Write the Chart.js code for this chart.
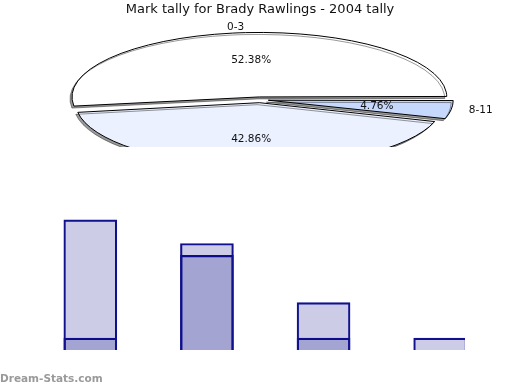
<!DOCTYPE html>
<html>
<head>
<meta charset="utf-8">
<script src="https://cdn.jsdelivr.net/npm/chart.js@4/dist/chart.umd.min.js"></script>
<style>
  body { margin: 0; background: #fff; }
  #wrap { position: relative; width: 520px; height: 390px; overflow: hidden; background: #fff; }
  #pie { position: absolute; left: 0; top: 0; }
  #bars { position: absolute; left: 0; top: 150px; }
  #mark { position: absolute; left: 0; top: 372px; font: bold 10.5px "DejaVu Sans", sans-serif; color: #9a9a9a; }
</style>
</head>
<body>
<div id="wrap">
  <canvas id="pie" width="520" height="147"></canvas>
  <canvas id="bars" width="520" height="240"></canvas>
  <div id="mark">Dream-Stats.com</div>
</div>
<script>
var chartTitle = 'Mark tally for Brady Rawlings - 2004 tally';

// pie slices
var sliceLabels = ['0-3', '4-7', '8-11'];
var sliceValues = [11, 9, 1];

// bars (overlapping, no axes shown)
var barSlots = [0, 1, 2, 3];
var barBack = [11, 9, 4, 1];
var barFront = [1, 8, 1, 0];

var labelFont = '10.5px "DejaVu Sans", sans-serif';

// squash the pie into an ellipse, keep 1px outlines, then write the labels
var ellipsePie = {
  id: 'ellipsePie',
  beforeDatasetsDraw: function (chart, args, opts) {
    var arc = chart.getDatasetMeta(0).data[0];
    var ctx = chart.ctx;
    var dpr = chart.currentDevicePixelRatio || 1;
    var sx = opts.rx / arc.outerRadius;
    var sy = opts.ry / arc.outerRadius;
    ctx.save();
    ctx.translate(arc.x, arc.y);
    ctx.scale(sx, sy);
    ctx.translate(-arc.x, -arc.y);
    ctx.shadowColor = 'rgba(0,0,0,0.4)';
    ctx.shadowOffsetX = -2;
    ctx.shadowOffsetY = 2;
    ctx.shadowBlur = 0;
    var stroke = ctx.stroke;
    ctx.stroke = function () {
      this.save();
      this.setTransform(dpr, 0, 0, dpr, 0, 0);
      stroke.call(this);
      this.restore();
    };
  },
  afterDatasetsDraw: function (chart, args, opts) {
    var ctx = chart.ctx;
    delete ctx.stroke;
    ctx.restore();

    var meta = chart.getDatasetMeta(0);
    var values = chart.data.datasets[0].data;
    var names = chart.data.labels;
    var total = values.reduce(function (a, b) { return a + b; }, 0);
    ctx.save();
    ctx.font = labelFont;
    ctx.fillStyle = '#111';
    ctx.textBaseline = 'middle';
    meta.data.forEach(function (arc, i) {
      var mid = (arc.startAngle + arc.endAngle) / 2;
      var c = Math.cos(mid), s = Math.sin(mid);
      ctx.textAlign = 'center';
      ctx.fillText((values[i] / total * 100).toFixed(2) + '%',
        arc.x + c * opts.rx * 0.66, arc.y + s * opts.ry * 0.65);
      ctx.textAlign = c < 0 ? 'right' : 'left';
      ctx.fillText(names[i], arc.x + c * opts.rx * 1.18, arc.y + s * opts.ry * 1.18);
    });
    ctx.restore();
  }
};

new Chart(document.getElementById('pie'), {
  type: 'pie',
  data: {
    labels: sliceLabels.slice().reverse(),
    datasets: [{
      data: sliceValues.slice().reverse(),
      backgroundColor: ['#C6D8FC', '#EBF1FF', '#FFFFFF'],
      borderColor: '#000',
      borderWidth: 1,
      offset: 8
    }]
  },
  options: {
    responsive: false,
    animation: false,
    events: [],
    rotation: 90,
    layout: { padding: { top: 2, left: 0, right: 0, bottom: 0 } },
    plugins: {
      legend: { display: false },
      tooltip: { enabled: false },
      title: {
        display: true,
        text: chartTitle,
        color: '#111',
        font: { family: 'DejaVu Sans', size: 13, weight: 'normal' },
        padding: { top: 0, bottom: 35 }
      },
      ellipsePie: { rx: 179, ry: 61.6 }
    }
  },
  plugins: [ellipsePie]
});

function points(vals) {
  return vals.map(function (v, i) { return { x: barSlots[i], y: v }; });
}

new Chart(document.getElementById('bars'), {
  type: 'bar',
  data: {
    datasets: [{
      data: points(barBack),
      backgroundColor: 'rgba(0,0,128,0.2)',
      borderColor: '#12128f',
      borderWidth: 1.5,
      borderSkipped: 'bottom',
      grouped: false,
      barThickness: 53,
      clip: { left: 0, top: 0, right: -2, bottom: 0 }
    }, {
      data: points(barFront),
      backgroundColor: 'rgba(0,0,128,0.2)',
      borderColor: '#12128f',
      borderWidth: 1.5,
      borderSkipped: 'bottom',
      grouped: false,
      barThickness: 53,
      clip: { left: 0, top: 0, right: -2, bottom: 0 }
    }]
  },
  options: {
    responsive: false,
    animation: false,
    events: [],
    layout: { padding: { left: 32, right: 53, top: 58, bottom: 40 } },
    scales: {
      x: { type: 'linear', min: -0.5, max: 3.23, offset: false, display: false },
      y: { min: 0, max: 12, display: false }
    },
    plugins: {
      legend: { display: false },
      tooltip: { enabled: false }
    }
  }
});
</script>
</body>
</html>
